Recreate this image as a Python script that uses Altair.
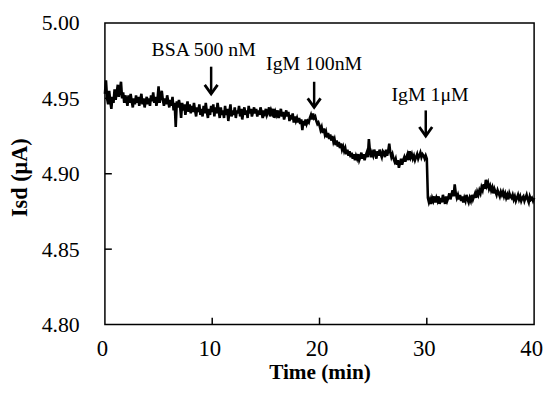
import altair as alt
import pandas as pd

# sampling grid: 0.0 ... 40.0 min, every 0.1 min
time_min = [round(i * 0.1, 1) for i in range(401)]

# Isd readings in units of 0.001 uA above 4.000 uA (one row per minute)
isd_milli = [
    953, 962, 950, 946, 955, 948, 943, 951, 947, 956,
    949, 954, 959, 951, 956, 961, 950, 954, 947, 952,
    949, 945, 952, 947, 953, 948, 944, 950, 946, 952,
    947, 951, 945, 949, 953, 946, 950, 944, 948, 951,
    946, 950, 945, 952, 948, 954, 947, 951, 945, 949,
    958, 947, 951, 955, 949, 945, 950, 946, 952, 948,
    944, 949, 945, 951, 942, 947, 931, 948, 944, 949,
    945, 937, 947, 942, 946, 939, 944, 948, 941, 946,
    940, 945, 941, 947, 942, 938, 944, 941, 946, 939,
    943, 938, 945, 940, 947, 941, 937, 943, 939, 945,
    941, 946, 938, 944, 940, 947, 942, 937, 944, 939,
    942, 937, 945, 939, 943, 935, 941, 946, 938, 942,
    939, 944, 937, 942, 940, 945, 938, 943, 936, 941,
    944, 939, 942, 937, 945, 940, 943, 938, 941, 944,
    940, 943, 938, 942, 939, 944, 941, 937, 942, 940,
    943, 939, 941, 944, 938, 942, 940, 943, 937, 941,
    939, 942, 937, 940, 943, 938, 941, 936, 939, 942,
    938, 941, 935, 939, 936, 940, 934, 938, 935, 937,
    934, 937, 933, 936, 929, 935, 932, 936, 933, 935,
    934, 937, 939, 936, 940, 937, 938, 935, 933, 934,
    932, 929, 931, 927, 930, 926, 928, 924, 927, 923,
    926, 922, 925, 921, 923, 919, 922, 918, 921, 917,
    920, 916, 918, 915, 917, 913, 916, 912, 915, 911,
    914, 910, 913, 909, 912, 910, 913, 909, 911, 914,
    910, 913, 909, 912, 914, 911, 923, 915, 911, 914,
    912, 916, 913, 910, 915, 912, 916, 913, 911, 915,
    914, 911, 916, 912, 915, 920, 914, 911, 913, 910,
    908, 910, 906, 909, 904, 907, 910, 906, 909, 911,
    908, 911, 913, 909, 915, 911, 913, 910, 912, 909,
    911, 913, 910, 912, 914, 911, 913, 912, 910, 912,
    910, 884, 881, 883, 880, 884, 882, 885, 881, 884,
    882, 885, 880, 884, 881, 886, 883, 880, 885, 882,
    884, 887, 883, 886, 889, 885, 893, 887, 884, 886,
    883, 886, 882, 885, 881, 884, 882, 886, 883, 881,
    884, 882, 886, 883, 885, 887, 884, 888, 886, 889,
    887, 891, 889, 893, 890, 896, 892, 894, 890, 892,
    889, 891, 887, 890, 888, 886, 889, 887, 885, 888,
    886, 888, 885, 887, 884, 886, 883, 887, 885, 884,
    886, 883, 885, 882, 884, 886, 883, 885, 882, 884,
    885, 882, 884, 886, 883, 881, 885, 883, 884, 882,
    884,
]

x_ticks = [0, 10, 20, 30, 40]
y_ticks = [4.80, 4.85, 4.90, 4.95, 5.00]
x_inner_ticks = [10, 20, 30]
y_inner_ticks = [4.85, 4.90, 4.95]

ann_text = ["BSA 500 nM", "IgM 100nM", "IgM 1μM"]
ann_time = [9.2, 19.5, 30.3]
ann_level = [4.978, 4.969, 4.948]
arrow_time = [9.9, 19.5, 29.9]
arrow_top = [4.971, 4.961, 4.942]
arrow_tip = [4.953, 4.944, 4.925]

W, H = 434, 305
XT = "Time (min)"
YT = "Isd  (μA)"

df = pd.DataFrame({"t": time_min, "I": [4 + v / 1000 for v in isd_milli]})
df_yt = pd.DataFrame({"I": y_inner_ticks})
df_xt = pd.DataFrame({"t": x_inner_ticks})
df_ann = pd.DataFrame({"t": ann_time, "I": ann_level, "label": ann_text})
df_arr = pd.DataFrame({"t": arrow_time, "top": arrow_top, "I": arrow_tip})

xs = alt.Scale(domain=[0, 40], nice=False, zero=False)
ys = alt.Scale(domain=[4.80, 5.00], nice=False, zero=False)

x_axis = alt.Axis(values=x_ticks, labelFontSize=23, labelPadding=13, labelOffset=-3,
                  labelFlush=False, titleFontSize=21.5, titleBaseline="alphabetic",
                  titleY=55)
y_axis = alt.Axis(values=y_ticks, format=".2f", labelFontSize=22, labelPadding=26,
                  titleFontSize=22.5, titleAngle=270, titleBaseline="alphabetic",
                  titleX=-79, titleY=156, titleAlign="center")

line = alt.Chart(df).mark_line(color="black", strokeWidth=2.6, strokeJoin="miter").encode(
    x=alt.X("t:Q", scale=xs, axis=x_axis, title=XT),
    y=alt.Y("I:Q", scale=ys, axis=y_axis, title=YT),
)

yt = alt.Chart(df_yt).mark_rule(color="black", strokeWidth=1.5).encode(
    y=alt.Y("I:Q", scale=ys, title=YT), x=alt.value(0), x2=alt.value(7)
)
xt = alt.Chart(df_xt).mark_rule(color="black", strokeWidth=1.5).encode(
    x=alt.X("t:Q", scale=xs, title=XT), y=alt.value(H), y2=alt.value(H - 7)
)

ann = alt.Chart(df_ann).mark_text(font="Liberation Serif", fontSize=20, color="black",
                                  align="center", baseline="alphabetic").encode(
    x=alt.X("t:Q", scale=xs, title=XT), y=alt.Y("I:Q", scale=ys, title=YT), text="label:N"
)

shaft = alt.Chart(df_arr).mark_rule(color="black", strokeWidth=2.5).encode(
    x=alt.X("t:Q", scale=xs, title=XT), y=alt.Y("top:Q", scale=ys, title=YT), y2="I:Q"
)
head = alt.Chart(df_arr).mark_point(shape="M-1,-1.4L0,0L1,-1.4", size=169, filled=False,
                                    color="black", strokeWidth=2.8, opacity=1).encode(
    x=alt.X("t:Q", scale=xs, title=XT), y=alt.Y("I:Q", scale=ys, title=YT)
)

chart = alt.layer(line, yt, xt, shaft, head, ann).properties(
    width=W, height=H,
    autosize=alt.AutoSizeParams(type="none"),
    padding={"left": 98, "top": 13, "right": 10, "bottom": 60},
    background="white",
).configure_view(stroke="black", strokeWidth=1.5).configure_axis(
    grid=False, domain=False, ticks=False, tickSize=0,
    labelFont="Liberation Serif", labelColor="black",
    titleFont="Liberation Serif", titleColor="black", titleFontWeight="bold",
)

chart.save("out.html", embed_options={"renderer": "svg", "actions": False})
